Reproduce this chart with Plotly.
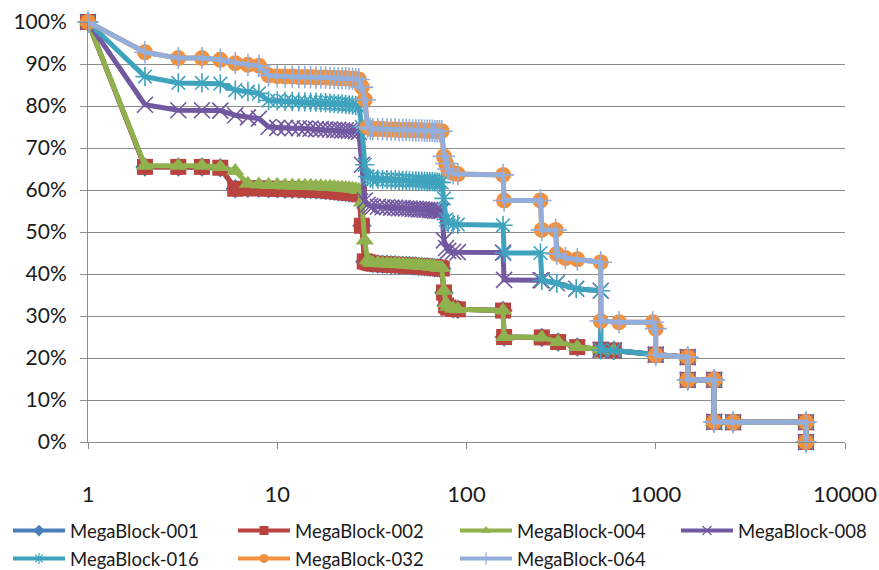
import plotly.graph_objects as go

# Shared x positions (block counts) for the dense head of every curve
x_dense = [1, 2, 3, 4, 5, 6, 7, 8, 9, 10, 11, 12, 13, 14, 15, 16, 17, 18, 19, 20,
           21, 22, 23, 24, 25, 26, 27, 28, 29, 30, 31, 32, 34, 36, 38, 40, 42, 44,
           46, 48, 50, 52, 54, 56, 58, 60, 62, 64, 66, 68, 70, 72, 74, 76, 78, 80,
           85, 90]

# Percent values of each series at x_dense
y_002_dense = [100, 65.5, 65.5, 65.5, 65.3, 60.3, 60.4, 60.4, 60.3, 60.3, 60.2, 60.2,
               60.2, 60.1, 60.1, 60.0, 60.0, 59.9, 59.8, 59.7, 59.6, 59.5, 59.4, 59.3,
               59.3, 59.2, 59.0, 51.5, 43.0, 42.8, 42.6, 42.5, 42.4, 42.3, 42.3, 42.2,
               42.2, 42.1, 42.1, 42.0, 42.0, 41.9, 41.9, 41.8, 41.8, 41.7, 41.7, 41.6,
               41.6, 41.5, 41.5, 41.4, 41.3, 35.6, 32.5, 32.0, 31.7, 31.6]
y_004_dense = [100, 65.8, 65.8, 65.8, 65.5, 64.5, 61.5, 61.3, 61.2, 61.2, 61.1, 61.1,
               61.0, 61.0, 61.0, 60.9, 60.9, 60.8, 60.8, 60.7, 60.6, 60.6, 60.5, 60.4,
               60.3, 60.2, 60.0, 57.0, 48.0, 43.2, 42.8, 42.6, 42.6, 42.5, 42.5, 42.4,
               42.4, 42.3, 42.3, 42.2, 42.2, 42.1, 42.1, 42.0, 42.0, 41.9, 41.9, 41.8,
               41.8, 41.7, 41.6, 41.5, 41.5, 36.0, 33.0, 32.2, 31.8, 31.6]
y_008_dense = [100, 80.3, 79.0, 79.0, 78.9, 77.8, 77.3, 77.0, 75.0, 74.8, 74.8, 74.7,
               74.7, 74.6, 74.6, 74.5, 74.5, 74.4, 74.4, 74.3, 74.3, 74.2, 74.2, 74.1,
               74.1, 74.0, 73.8, 66.0, 57.5, 56.5, 56.2, 56.0, 56.0, 55.9, 55.9, 55.8,
               55.8, 55.7, 55.7, 55.6, 55.6, 55.5, 55.5, 55.4, 55.4, 55.3, 55.3, 55.2,
               55.2, 55.1, 55.1, 55.0, 55.0, 48.0, 46.2, 45.5, 45.3, 45.2]
y_016_dense = [100, 87.0, 85.5, 85.5, 85.3, 83.8, 83.4, 83.0, 81.3, 81.2, 81.1, 81.1,
               81.0, 81.0, 80.9, 80.9, 80.8, 80.8, 80.7, 80.6, 80.5, 80.5, 80.4, 80.3,
               80.2, 80.1, 79.8, 75.0, 66.0, 63.2, 62.8, 62.6, 62.6, 62.5, 62.5, 62.4,
               62.4, 62.3, 62.3, 62.3, 62.2, 62.2, 62.2, 62.1, 62.1, 62.1, 62.0, 62.0,
               62.0, 61.9, 61.9, 61.8, 61.8, 58.0, 53.0, 52.2, 51.9, 51.8]
y_032_dense = [100, 92.8, 91.4, 91.4, 91.0, 90.2, 89.8, 89.6, 87.3, 87.1, 87.0, 87.0,
               86.9, 86.9, 86.9, 86.8, 86.8, 86.8, 86.7, 86.7, 86.6, 86.6, 86.6, 86.5,
               86.5, 86.4, 86.3, 84.5, 81.5, 75.0, 74.6, 74.5, 74.5, 74.5, 74.4, 74.4,
               74.4, 74.3, 74.3, 74.3, 74.3, 74.2, 74.2, 74.2, 74.2, 74.1, 74.1, 74.1,
               74.1, 74.0, 74.0, 74.0, 74.0, 68.0, 66.3, 65.0, 64.0, 63.8]
y_064_dense = [100, 92.8, 91.4, 91.4, 91.0, 90.2, 89.8, 89.6, 87.3, 87.1, 87.0, 87.0,
               86.9, 86.9, 86.9, 86.8, 86.8, 86.8, 86.7, 86.7, 86.6, 86.6, 86.6, 86.5,
               86.5, 86.4, 86.3, 84.5, 81.5, 75.0, 74.6, 74.5, 74.5, 74.5, 74.4, 74.4,
               74.4, 74.3, 74.3, 74.3, 74.3, 74.2, 74.2, 74.2, 74.2, 74.1, 74.1, 74.1,
               74.1, 74.0, 74.0, 74.0, 74.0, 68.0, 66.3, 65.0, 64.0, 63.8]

# Sparse tails (block counts and percent values)
x_002_tail = [156, 158, 250, 305, 385, 512, 600, 1000, 1476, 1476, 2036, 2036, 2564, 6220, 6220]
y_002_tail = [31.3, 25.0, 24.9, 23.8, 22.6, 22.0, 21.8, 20.8, 20.2, 14.8, 14.8, 4.8, 4.7, 4.7, 0.0]
x_004_tail = [156, 158, 250, 305, 385, 512, 600, 1000, 1476, 1476, 2036, 2036, 2564, 6220, 6220]
y_004_tail = [31.3, 25.0, 24.9, 23.8, 22.6, 22.0, 21.8, 20.8, 20.2, 14.8, 14.8, 4.8, 4.7, 4.7, 0.0]
x_008_tail = [156, 158, 246, 250, 300, 380, 512, 512, 600, 1000, 1476, 1476, 2036, 2036, 2564, 6220, 6220]
y_008_tail = [45.1, 38.6, 38.5, 38.5, 37.8, 36.5, 36.0, 21.9, 21.8, 20.8, 20.2, 14.8, 14.8, 4.8, 4.7, 4.7, 0.0]
x_016_tail = [156, 158, 246, 250, 300, 380, 512, 512, 600, 1000, 1476, 1476, 2036, 2036, 2564, 6220, 6220]
y_016_tail = [51.6, 45.0, 45.0, 38.5, 37.8, 36.5, 36.0, 21.9, 21.8, 20.8, 20.2, 14.8, 14.8, 4.8, 4.7, 4.7, 0.0]
x_032_tail = [156, 158, 246, 250, 296, 300, 333, 385, 512, 512, 640, 964, 1000, 1000,
              1476, 1476, 2036, 2036, 2564, 6220, 6220]
y_032_tail = [63.6, 57.5, 57.5, 50.5, 50.5, 44.8, 43.8, 43.5, 42.8, 28.8, 28.5, 28.5, 27.0, 20.7,
              20.2, 14.8, 14.8, 4.8, 4.7, 4.7, 0.0]
x_064_tail = [156, 158, 246, 250, 296, 300, 333, 385, 512, 512, 640, 964, 1000, 1000,
              1476, 1476, 2036, 2036, 2564, 6220, 6220]
y_064_tail = [63.6, 57.5, 57.5, 50.5, 50.5, 44.8, 43.8, 43.5, 42.8, 28.8, 28.5, 28.5, 27.0, 20.7,
              20.2, 14.8, 14.8, 4.8, 4.7, 4.7, 0.0]

names = ["MegaBlock-001", "MegaBlock-002", "MegaBlock-004", "MegaBlock-008",
         "MegaBlock-016", "MegaBlock-032", "MegaBlock-064"]
colors = ["#4A7EBB", "#B8433F", "#8FB24E", "#7158A0", "#3FA3BE", "#F0913F", "#93AEDA"]
symbols = ["diamond", "square", "triangle-up", "x-thin-open", "asterisk-open",
           "circle", "cross-thin-open"]

xs = [x_dense + x_002_tail, x_dense + x_002_tail, x_dense + x_004_tail,
      x_dense + x_008_tail, x_dense + x_016_tail, x_dense + x_032_tail,
      x_dense + x_064_tail]
ys = [y_002_dense + y_002_tail, y_002_dense + y_002_tail, y_004_dense + y_004_tail,
      y_008_dense + y_008_tail, y_016_dense + y_016_tail, y_032_dense + y_032_tail,
      y_064_dense + y_064_tail]

fig = go.Figure()

for name, color, sym, x, y in zip(names, colors, symbols, xs, ys):
    thin = sym.endswith("-open")
    marker = dict(symbol=sym, size=16 if sym != "diamond" else 15, color=color,
                  line=dict(color=color, width=1.6 if thin else 0))
    fig.add_trace(go.Scatter(
        x=x, y=y, mode="lines+markers", name=name, showlegend=False,
        line=dict(color=color, width=5), marker=marker, cliponaxis=False,
    ))

# One legend box per entry: four columns, two rows
col_left = [8, 233, 455, 676]
row_mid = [531, 559]
legend_ids = ["legend"] + ["legend%d" % k for k in range(2, 8)]
legend_boxes = {}
for i, (name, color, sym, lg) in enumerate(zip(names, colors, symbols, legend_ids)):
    thin = sym.endswith("-open")
    fig.add_trace(go.Scatter(
        x=[None], y=[None], mode="lines+markers", name=name, legend=lg,
        line=dict(color=color, width=4),
        marker=dict(symbol=sym, size=9, color=color,
                    line=dict(color=color, width=1.2 if thin else 0)),
    ))
    legend_boxes[lg] = dict(
        orientation="v", xref="container", yref="container",
        xanchor="left", yanchor="middle", itemwidth=52,
        x=col_left[i % 4] / 879, y=(570 - row_mid[i // 4]) / 570,
        font=dict(family="Lato", size=18.5, color="#1A1A1A"),
        bgcolor="rgba(0,0,0,0)",
    )

axis_grey = "#8C8C8C"

fig.update_layout(
    width=879, height=570,
    margin=dict(l=88, r=34, t=22, b=128, autoexpand=False),
    paper_bgcolor="white", plot_bgcolor="white",
    font=dict(family="Lato", color="#1A1A1A"),
    xaxis=dict(
        type="log", range=[0, 4],
        tickvals=[1, 10, 100, 1000, 10000],
        ticktext=["1", "10", "100", "1000", "10000"],
        showgrid=False, zeroline=False, automargin=False,
        showline=True, linecolor=axis_grey, linewidth=1,
        ticks="outside", ticklen=6, tickcolor=axis_grey,
        tickfont=dict(size=22), ticklabelstandoff=27,
    ),
    yaxis=dict(
        range=[0, 100], dtick=10, ticksuffix="%", automargin=False,
        showgrid=True, gridcolor=axis_grey, gridwidth=1, zeroline=False,
        showline=True, linecolor=axis_grey, linewidth=1,
        ticks="outside", ticklen=7, tickcolor=axis_grey,
        tickfont=dict(size=21), ticklabelstandoff=9,
    ),
)
fig.update_layout(**legend_boxes)

fig.write_html("out.html")
